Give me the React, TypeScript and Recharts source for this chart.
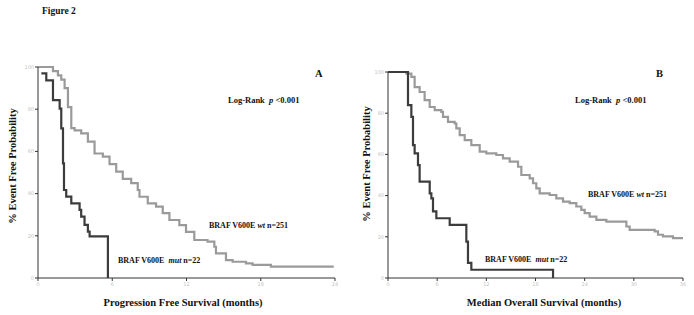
import { LineChart, Line, XAxis, YAxis } from "recharts";

type KmPoint = { t: number; s: number };

// Panel A: progression free survival (months, % event free)
const pfsWtMonths = [0, 0.94, 1.21, 1.61, 1.88, 2.15, 2.42, 2.69, 2.96, 3.49, 4.03, 4.57, 5.24, 5.78, 6.32, 6.85, 7.53, 8.06, 8.2, 8.87, 9.54, 10.08, 10.62, 11.42, 11.96, 12.63, 13.7, 14.25, 14.38, 15.19, 15.73, 16.8, 17.34, 18.82, 23.9];
const pfsWtSurv = [100, 100, 98, 96, 94, 90, 81, 71, 70, 68.5, 64.6, 59, 57.5, 54, 50.4, 47, 45, 41.7, 38.5, 35.4, 33.8, 30.7, 27.5, 25.1, 21.9, 18, 17.2, 14.8, 11.7, 8.5, 7.7, 6.9, 6.2, 5.4, 5.4];
const pfsMutMonths = [0.27, 0.67, 1.21, 1.75, 1.88, 2.02, 2.1, 2.28, 2.69, 3.36, 3.49, 3.76, 4.03, 4.17, 5.65];
const pfsMutSurv = [97, 93.7, 84.3, 80.3, 70.9, 54.3, 41.7, 38.6, 35.4, 32.3, 29.1, 25.2, 22, 19.7, 0];

// Panel B: overall survival
const osWtMonths = [0, 1.83, 2.24, 2.85, 3.25, 3.86, 4.47, 5.09, 5.7, 6.51, 6.71, 7.32, 8.14, 8.34, 8.75, 9.36, 10.17, 11.19, 12.0, 13.22, 14.03, 14.85, 15.87, 16.27, 17.29, 17.7, 18.1, 18.51, 19.73, 20.54, 21.36, 22.17, 22.98, 23.59, 24.0, 24.61, 25.43, 26.65, 29.09, 29.49, 32.54, 32.95, 33.56, 34.78, 36.0];
const osWtSurv = [100, 100, 99.2, 97.6, 92.7, 90.3, 86.3, 83, 81.5, 80.6, 78.2, 75.8, 75, 72.6, 69.4, 66.9, 64.5, 61.3, 60.5, 59.7, 58.1, 56.5, 54, 50, 48.4, 46, 43.5, 41.1, 40.3, 38.7, 37.1, 36.3, 34.7, 33.1, 31.5, 29.8, 28.2, 27.4, 25, 23.4, 22.6, 21, 20.2, 19.4, 19.4];
const osMutMonths = [0, 2.03, 2.44, 2.85, 3.05, 3.25, 3.66, 3.86, 5.09, 5.29, 5.49, 5.9, 7.53, 9.56, 9.76, 10.17, 20.14];
const osMutSurv = [100, 100, 83.9, 78.2, 64.5, 60.5, 54.8, 46.8, 41.1, 38.7, 32.3, 29, 25.8, 17.7, 7.3, 4, 0];

const yTicks = [0, 20, 40, 60, 80, 100];
const pfsTicks = [0, 6, 12, 18, 24];
const osTicks = [0, 6, 12, 18, 24, 30, 36];

const toPoints = (t: number[], s: number[]): KmPoint[] => t.map((v, i) => ({ t: v, s: s[i] }));

const WT = "#9a9a9a";
const MUT = "#3c3c3c";
const serif = "'Liberation Serif', 'Times New Roman', serif";
const tickStyle = { fontSize: 5, fill: "#c4c4c4", fontFamily: "'DejaVu Sans', sans-serif" };

function KmPanel(props: {
  left: number;
  width: number;
  top: number;
  marginLeft: number;
  marginRight: number;
  xMax: number;
  xTicks: number[];
  wt: KmPoint[];
  mut: KmPoint[];
}) {
  return (
    <div style={{ position: "absolute", left: props.left, top: 0 }}>
      <LineChart
        width={props.width}
        height={315}
        margin={{ top: props.top, right: props.marginRight, left: props.marginLeft, bottom: 27 }}
      >
        <XAxis
          type="number"
          dataKey="t"
          domain={[0, props.xMax]}
          ticks={props.xTicks}
          height={10}
          tickSize={3}
          tickMargin={1}
          stroke="#333"
          tick={tickStyle}
          allowDataOverflow
        />
        <YAxis
          type="number"
          dataKey="s"
          domain={[0, 100]}
          ticks={yTicks}
          width={20}
          tickSize={3}
          tickMargin={1}
          stroke="#333"
          tick={tickStyle}
        />
        <Line
          data={props.wt}
          dataKey="s"
          type="stepAfter"
          stroke={WT}
          strokeWidth={2.2}
          dot={false}
          isAnimationActive={false}
        />
        <Line
          data={props.mut}
          dataKey="s"
          type="stepAfter"
          stroke={MUT}
          strokeWidth={2.2}
          dot={false}
          isAnimationActive={false}
        />
      </LineChart>
    </div>
  );
}

export default function App() {
  const bold = { fontFamily: serif, fontWeight: 700, fill: "#111" } as const;
  return (
    <div style={{ position: "absolute", left: 0, top: 0, width: 694, height: 315, background: "#fff" }}>
      <KmPanel
        left={0}
        width={345}
        top={67}
        marginLeft={18}
        marginRight={10}
        xMax={24}
        xTicks={pfsTicks}
        wt={toPoints(pfsWtMonths, pfsWtSurv)}
        mut={toPoints(pfsMutMonths, pfsMutSurv)}
      />
      <KmPanel
        left={345}
        width={349}
        top={72}
        marginLeft={23}
        marginRight={11}
        xMax={36}
        xTicks={osTicks}
        wt={toPoints(osWtMonths, osWtSurv)}
        mut={toPoints(osMutMonths, osMutSurv)}
      />
      <svg width={694} height={315} style={{ position: "absolute", left: 0, top: 0, pointerEvents: "none" }}>
        <text x={42} y={14} fontSize={9.5} {...bold}>Figure 2</text>

        <text x={315} y={77} fontSize={10.5} {...bold}>A</text>
        <text x={228} y={103} fontSize={8.5} {...bold}>
          {"Log-Rank\u00a0\u00a0"}<tspan fontStyle="italic">p</tspan>{" <0.001"}
        </text>
        <text x={209} y={228} fontSize={8} {...bold}>
          BRAF V600E <tspan fontStyle="italic">wt</tspan> n=251
        </text>
        <text x={118} y={263} fontSize={8} {...bold}>
          {"BRAF V600E\u00a0\u00a0"}<tspan fontStyle="italic">mut</tspan> n=22
        </text>
        <text x={183} y={305.5} fontSize={10.5} textAnchor="middle" {...bold}>
          Progression Free Survival (months)
        </text>
        <text x={0} y={0} fontSize={10.5} textAnchor="middle" transform="translate(16,166) rotate(-90)" {...bold}>
          % Event Free Probability
        </text>

        <text x={656} y={77} fontSize={10.5} {...bold}>B</text>
        <text x={575} y={103} fontSize={8.5} {...bold}>
          {"Log-Rank\u00a0\u00a0"}<tspan fontStyle="italic">p</tspan>{" <0.001"}
        </text>
        <text x={588} y={197} fontSize={8} {...bold}>
          BRAF V600E <tspan fontStyle="italic">wt</tspan> n=251
        </text>
        <text x={485} y={262} fontSize={8} {...bold}>
          {"BRAF V600E\u00a0\u00a0"}<tspan fontStyle="italic">mut</tspan> n=22
        </text>
        <text x={544} y={305.5} fontSize={10.5} textAnchor="middle" {...bold}>
          Median Overall Survival (months)
        </text>
        <text x={0} y={0} fontSize={10.5} textAnchor="middle" transform="translate(370,164) rotate(-90)" {...bold}>
          % Event Free Probability
        </text>
      </svg>
    </div>
  );
}
